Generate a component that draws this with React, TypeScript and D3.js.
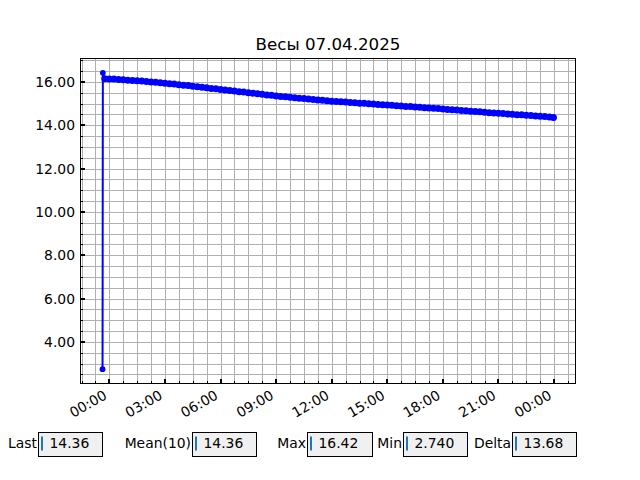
import React from "react";
import * as d3 from "d3";

// ---- data ----
const spikeTimes = [new Date(2025, 3, 6, 23, 38), new Date(2025, 3, 6, 23, 39)];
const spikeValues = [2.74, 16.42];
const regularStart = new Date(2025, 3, 6, 23, 45);
const regularStepMinutes = 15;
const regularValues = [
  16.15, 16.14, 16.13, 16.11, 16.1, 16.08, 16.07, 16.05, 16.04, 16.02, 16.0, 15.98, 15.96,
  15.94, 15.92, 15.9, 15.87, 15.85, 15.83, 15.8, 15.78, 15.75, 15.73, 15.7, 15.68,
  15.65, 15.63, 15.6, 15.58, 15.55, 15.53, 15.5, 15.48, 15.45, 15.43, 15.4, 15.38,
  15.35, 15.33, 15.31, 15.29, 15.27, 15.25, 15.23, 15.21, 15.19, 15.17, 15.15, 15.13,
  15.11, 15.1, 15.08, 15.07, 15.05, 15.04, 15.02, 15.01, 14.99, 14.98, 14.96, 14.95,
  14.93, 14.92, 14.9, 14.89, 14.87, 14.86, 14.84, 14.83, 14.81, 14.8, 14.78, 14.77,
  14.75, 14.73, 14.72, 14.7, 14.68, 14.67, 14.65, 14.63, 14.62, 14.6, 14.58, 14.57,
  14.55, 14.54, 14.52, 14.51, 14.49, 14.48, 14.46, 14.45, 14.43, 14.41, 14.4, 14.38,
];
const finalTimes = [new Date(2025, 3, 7, 23, 58)];
const finalValues = [14.36];

const title = "Весы 07.04.2025";
const statLabels = ["Last", "Mean(10)", "Max", "Min", "Delta"];
const statValues = ["14.36", "14.36", "16.42", "2.740", "13.68"];

// ---- layout ----
const W = 640, H = 480;
const M = { left: 80, right: 576, top: 58, bottom: 384 };
const boxX = [38, 192, 307, 403, 512];
const boxW = [64, 64, 65, 64, 64];
const boxY = 432, boxH = 24;
const FONT = "DejaVu Sans, sans-serif";
const BLUE = "#0000ff";

type P = { t: Date; v: number; dense: boolean };
const points: P[] = [
  ...spikeTimes.map((t, i) => ({ t, v: spikeValues[i], dense: false })),
  ...regularValues.map((v, i) => ({
    t: new Date(regularStart.getTime() + i * regularStepMinutes * 60000),
    v,
    dense: true,
  })),
  ...finalTimes.map((t, i) => ({ t, v: finalValues[i], dense: true })),
];

export default function App() {
  const tExt = d3.extent(points, (d) => d.t.getTime()) as [number, number];
  const tPad = (tExt[1] - tExt[0]) * 0.05;
  const x = d3
    .scaleTime()
    .domain([new Date(tExt[0] - tPad), new Date(tExt[1] + tPad)])
    .range([M.left, M.right]);
  const vExt = d3.extent(points, (d) => d.v) as [number, number];
  const vPad = (vExt[1] - vExt[0]) * 0.05;
  const y = d3
    .scaleLinear()
    .domain([vExt[0] - vPad, vExt[1] + vPad])
    .range([M.bottom, M.top]);

  const [d0, d1] = x.domain();
  const majorX = d3.timeHour.every(3)!.range(d0, d1);
  const minorX: Date[] = [];
  const base = d3.timeHour.every(3)!.floor(d0).getTime();
  for (let t = base; t <= d1.getTime(); t += 45 * 60000) {
    if (t >= d0.getTime()) minorX.push(new Date(t));
  }
  const fmt = d3.timeFormat("%H:%M");
  const majorY = d3.range(4, 16.001, 2);
  const [y0, y1] = y.domain();
  const minorY = d3.range(Math.ceil(y0 * 2) / 2, y1, 0.5);

  const line = d3
    .line<P>()
    .x((d) => x(d.t))
    .y((d) => y(d.v));

  return (
    <svg
      width={W}
      height={H}
      style={{ position: "absolute", left: 0, top: 0, background: "#fff" }}
      fontFamily={FONT}
    >
      <rect x={0} y={0} width={W} height={H} fill="#fff" />
      {/* grid */}
      <g stroke="#b0b0b0" strokeWidth={1} shapeRendering="crispEdges">
        {minorX.map((t, i) => (
          <line key={"gx" + i} x1={Math.round(x(t)) + 0.5} x2={Math.round(x(t)) + 0.5} y1={M.top} y2={M.bottom} />
        ))}
        {minorY.map((v, i) => (
          <line key={"gy" + i} y1={Math.round(y(v)) + 0.5} y2={Math.round(y(v)) + 0.5} x1={M.left} x2={M.right} />
        ))}
      </g>
      {/* data */}
      <path d={line(points)!} fill="none" stroke={BLUE} strokeWidth={2} />
      <g fill={BLUE}>
        {points.map((p, i) => (
          <circle key={i} cx={x(p.t)} cy={y(p.v)} r={p.dense ? 3.5 : 2.9} />
        ))}
      </g>
      {/* spines */}
      <rect
        x={M.left + 0.5}
        y={M.top + 0.5}
        width={M.right - M.left - 1}
        height={M.bottom - M.top - 1}
        fill="none"
        stroke="#000"
        strokeWidth={1}
        shapeRendering="crispEdges"
      />
      {/* ticks */}
      <g stroke="#000" shapeRendering="crispEdges">
        {minorX.map((t, i) => (
          <line key={"mx" + i} x1={Math.round(x(t)) + 0.5} x2={Math.round(x(t)) + 0.5} y1={M.bottom} y2={M.bottom - 3} strokeWidth={1} />
        ))}
        {majorX.map((t, i) => (
          <line key={"Mx" + i} x1={Math.round(x(t))} x2={Math.round(x(t))} y1={M.bottom} y2={M.bottom - 5} strokeWidth={2} />
        ))}
        {minorY.map((v, i) => (
          <line key={"my" + i} y1={Math.round(y(v)) + 0.5} y2={Math.round(y(v)) + 0.5} x1={M.left} x2={M.left + 3} strokeWidth={1} />
        ))}
        {majorY.map((v, i) => (
          <line key={"My" + i} y1={Math.round(y(v))} y2={Math.round(y(v))} x1={M.left} x2={M.left + 5} strokeWidth={2} />
        ))}
      </g>
      {/* tick labels */}
      <g fontSize={13.9} fill="#000">
        {majorY.map((v, i) => (
          <text key={"ly" + i} x={75} y={y(v) + 5} textAnchor="end">
            {v.toFixed(2)}
          </text>
        ))}
        {majorX.map((t, i) => (
          <text
            key={"lx" + i}
            transform={`translate(${x(t) - 1.5},${398}) rotate(-30)`}
            textAnchor="end"
          >
            {fmt(t)}
          </text>
        ))}
      </g>
      <text x={(M.left + M.right) / 2} y={49.7} textAnchor="middle" fontSize={16.7} fill="#000">
        {title}
      </text>
      {/* stat boxes */}
      <g fontSize={13.9}>
        {statLabels.map((lab, i) => (
          <g key={"s" + i}>
            <text x={boxX[i] - 1} y={447.7} textAnchor="end" fill="#000">
              {lab}
            </text>
            <rect
              x={boxX[i] + 0.5}
              y={boxY + 0.5}
              width={boxW[i]}
              height={boxH}
              fill="#f0f0f0"
              stroke="#000"
              strokeWidth={1}
              shapeRendering="crispEdges"
            />
            <line
              x1={boxX[i] + 4}
              x2={boxX[i] + 4}
              y1={436.5}
              y2={450.5}
              stroke="#1f77b4"
              strokeWidth={2}
            />
            <text x={boxX[i] + 11.5} y={447.7} fill="#000">
              {statValues[i]}
            </text>
          </g>
        ))}
      </g>
    </svg>
  );
}
